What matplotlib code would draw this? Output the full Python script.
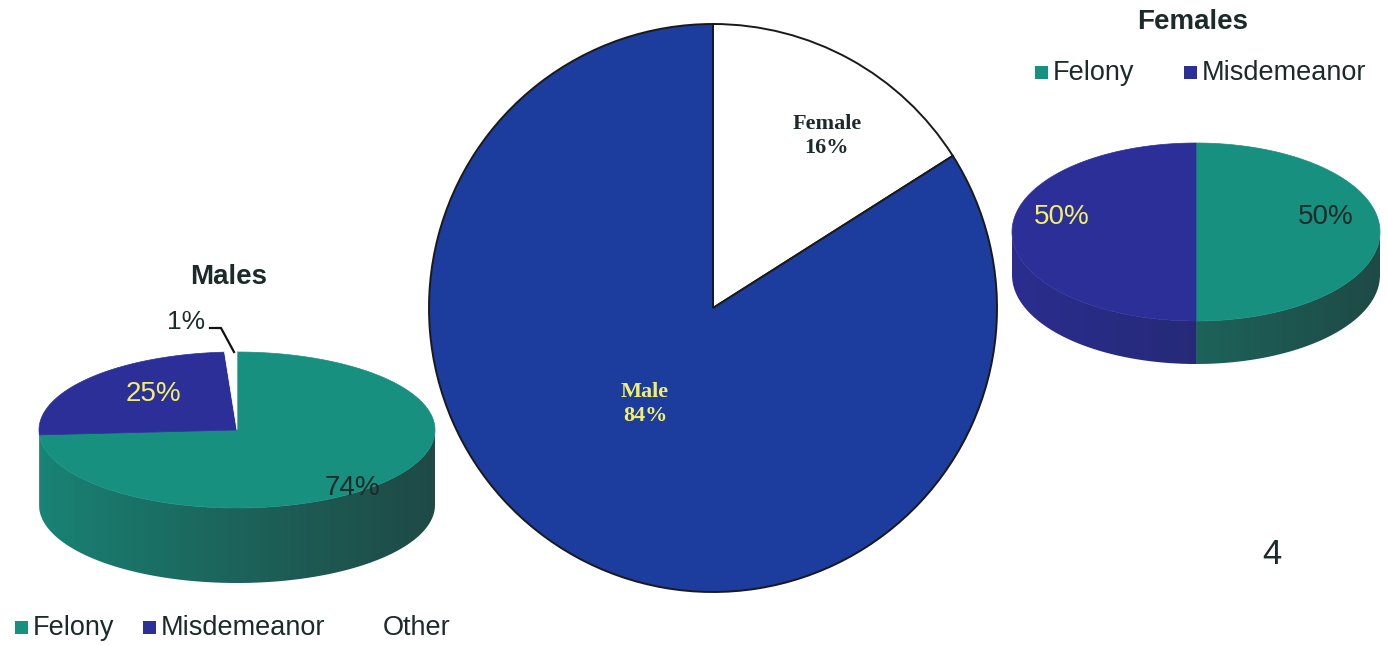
import numpy as np
import matplotlib.pyplot as plt
from matplotlib.patches import Polygon, Rectangle
from matplotlib.colors import to_rgb

W, H = 1387, 645

# data
gender_labels = ['Female', 'Male']
gender_vals = [16, 84]

male_cats = ['Felony', 'Misdemeanor', 'Other']
male_vals = [74, 25, 1]
male_pct = ['74%', '25%', '1%']

female_cats = ['Felony', 'Misdemeanor']
female_vals = [50, 50]
female_pct = ['50%', '50%']

TEAL = '#17907f'
TEAL_DK = '#1f4a46'
BLUE3D = '#2c2f98'
BLUE3D_DK = '#232766'
OTHER = '#ffffff'
OTHER_DK = '#dddddd'
BIGBLUE = '#1c3c9e'
YEL = '#f2f06a'
TXT = '#1d2a2a'


def py(y):
    # pixel row -> data y (y up)
    return H - y


def pie3d(ax, vals, colors, dark, cx, cy, rx, ry, depth):
    """3d-looking pie, starts at 12 o'clock, clockwise."""
    tot = float(sum(vals))
    edges = 90 - 360 * np.cumsum([0] + list(vals)) / tot
    # side walls (front half only), shaded darker to the right
    for i in range(len(vals)):
        a0, a1 = edges[i], edges[i + 1]
        for off in (0, 360):
            lo, hi = max(a1 + off, -180), min(a0 + off, 0)
            if hi <= lo:
                continue
            t = np.radians(np.linspace(lo, hi, 120))
            xs = cx + rx * np.cos(t)
            ys = cy + ry * np.sin(t)
            pts = np.column_stack([np.r_[xs, xs[::-1]],
                                   np.r_[ys, ys[::-1] - depth]])
            poly = Polygon(pts, closed=True, fc='none', ec='none', zorder=2)
            ax.add_patch(poly)
            # horizontal gradient, light on the left, dark on the right
            f = np.linspace(0, 1, 256) ** 0.8
            c0 = np.array(to_rgb(colors[i])) * 0.85 + np.array(to_rgb(dark[i])) * 0.15
            c1 = np.array(to_rgb(dark[i]))
            grad = c0[None, :] * (1 - f[:, None]) + c1[None, :] * f[:, None]
            im = ax.imshow(grad[None, :, :], aspect='auto', zorder=2,
                           extent=(cx - rx, cx + rx, cy - ry - depth, cy),
                           interpolation='bilinear')
            im.set_clip_path(poly)
    for i in range(len(vals)):
        a0, a1 = edges[i], edges[i + 1]
        t = np.radians(np.linspace(a1, a0, 200))
        pts = np.column_stack([np.r_[cx, cx + rx * np.cos(t)],
                               np.r_[cy, cy + ry * np.sin(t)]])
        ax.add_patch(Polygon(pts, closed=True, fc=colors[i], ec=colors[i],
                             lw=0.5, zorder=3))


fig = plt.figure(figsize=(W / 100, H / 100), dpi=100)
ax = fig.add_axes([0, 0, 1, 1])

# central pie
cxc, cyc, rc = 713, py(308), 284
wedges, _ = ax.pie(gender_vals, colors=['white', BIGBLUE], startangle=90,
                   counterclock=False, center=(cxc, cyc), radius=rc,
                   wedgeprops=dict(edgecolor='#1a1a1a', linewidth=1.4))
for lab, v, (lx, ly), col in zip(gender_labels, gender_vals,
                                 [(827, 136), (645, 404)], [TXT, YEL]):
    ax.text(lx, py(ly), f'{lab}\n{v}%', ha='center', va='center', color=col,
            family='Liberation Serif', weight='bold', fontsize=16,
            linespacing=1.25, zorder=5)

# males 3d pie
pie3d(ax, male_vals, [TEAL, BLUE3D, OTHER], [TEAL_DK, BLUE3D_DK, OTHER_DK],
      237, py(430), 198, 78, 75)
ax.text(352, py(488), male_pct[0], ha='center', va='center', color=TXT,
        fontsize=20, family='Liberation Sans', zorder=5)
ax.text(153, py(394), male_pct[1], ha='center', va='center', color=YEL,
        fontsize=20, family='Liberation Sans', zorder=5)
ax.text(186, py(322), male_pct[2], ha='center', va='center', color=TXT,
        fontsize=19, family='Liberation Sans', zorder=5)
ax.plot([210, 221, 234], [py(328), py(328), py(352)], color='#111',
        lw=1.6, zorder=5)
ax.text(229, py(277), 'Males', ha='center', va='center', color=TXT,
        fontsize=20, weight='bold', family='Liberation Sans')

# females 3d pie
pie3d(ax, female_vals, [TEAL, BLUE3D], [TEAL_DK, BLUE3D_DK],
      1196, py(232), 184, 89, 43)
ax.text(1326, py(217), female_pct[0], ha='center', va='center', color=TXT,
        fontsize=20, family='Liberation Sans', zorder=5)
ax.text(1062, py(217), female_pct[1], ha='center', va='center', color=YEL,
        fontsize=20, family='Liberation Sans', zorder=5)
ax.text(1193, py(22), 'Females', ha='center', va='center', color=TXT,
        fontsize=20, weight='bold', family='Liberation Sans')


def legend_row(x0s, cats, cols, y):
    for x0, c, col in zip(x0s, cats, cols):
        if col is not None:
            ax.add_patch(Rectangle((x0, py(y) - 6), 13, 13, fc=col,
                                   ec='none', zorder=5))
        ax.text(x0 + 18, py(y), c, ha='left', va='center', color=TXT,
                fontsize=19.5, family='Liberation Sans', zorder=5)


legend_row([15, 143, 365], male_cats, [TEAL, BLUE3D, None], 628)
legend_row([1035, 1184], female_cats, [TEAL, BLUE3D], 73)

ax.text(1272, py(554), '4', ha='center', va='center', color=TXT,
        fontsize=25, family='Liberation Sans')

ax.set_xlim(0, W)
ax.set_ylim(0, H)
ax.set_aspect('auto')
ax.axis('off')

fig.savefig('out.png', dpi=100, facecolor='white')
